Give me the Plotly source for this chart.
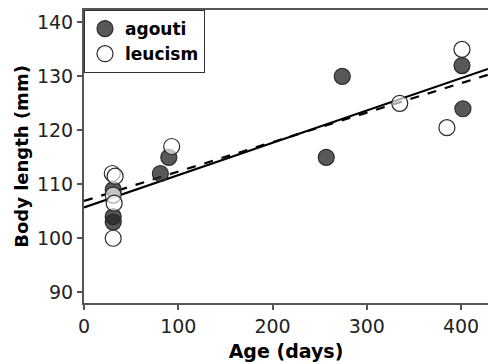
import plotly.graph_objects as go
import numpy as np

# Data
agouti_age = [31, 31, 31, 81, 90, 257, 274, 401, 402]
agouti_length = [109, 104, 103, 112, 115, 115, 130, 132, 124]

leucism_age = [30, 33, 31, 32, 31, 93, 335, 385, 401]
leucism_length = [112, 111.5, 108, 106.5, 100, 117, 125, 120.5, 135]

# Fitted regression lines (intercept, slope)
agouti_fit = (105.7, 0.0599)
leucism_fit = (106.9, 0.0546)

x_ticks = [0, 100, 200, 300, 400]
y_ticks = [90, 100, 110, 120, 130, 140]

X_RANGE = [0, 428.6]
Y_RANGE = [88, 142.3]

FONT = "DejaVu Sans"

fig = go.Figure()

fx = np.array(X_RANGE)
fig.add_trace(go.Scatter(
    x=fx, y=agouti_fit[0] + agouti_fit[1] * fx, mode="lines",
    line=dict(color="black", width=2.2), showlegend=False, hoverinfo="skip"))
fig.add_trace(go.Scatter(
    x=fx, y=leucism_fit[0] + leucism_fit[1] * fx, mode="lines",
    line=dict(color="black", width=2.2, dash="dash"), showlegend=False, hoverinfo="skip"))

fig.add_trace(go.Scatter(
    x=agouti_age, y=agouti_length, mode="markers", name="agouti",
    marker=dict(size=16, color="rgba(38,38,38,0.77)",
                line=dict(color="#2a2a2a", width=1.2))))
fig.add_trace(go.Scatter(
    x=leucism_age, y=leucism_length, mode="markers", name="leucism",
    marker=dict(size=16, color="rgba(255,255,255,0.65)",
                line=dict(color="#2a2a2a", width=1.2))))

axis_common = dict(
    showgrid=False, zeroline=False, showline=True, linecolor="#555", linewidth=2,
    ticks="outside", ticklen=5, tickwidth=1.5, tickcolor="#555",
    tickfont=dict(family=FONT, size=19, color="#222"), automargin=False,
)

fig.update_xaxes(
    range=X_RANGE, tickvals=x_ticks, mirror=True,
    title=dict(text="Age (days)", font=dict(family=FONT, size=19, color="black", weight="bold"), standoff=9),
    **axis_common)
fig.update_yaxes(
    range=Y_RANGE, tickvals=y_ticks,
    title=dict(text="Body length (mm)", font=dict(family=FONT, size=18, color="black", weight="bold"), standoff=4),
    **axis_common)

fig.update_layout(
    width=488, height=364,
    margin=dict(l=84, r=0, t=10, b=61),
    plot_bgcolor="white", paper_bgcolor="white",
    showlegend=True,
    legend=dict(x=0, y=1, xanchor="left", yanchor="top",
                bgcolor="white", bordercolor="#333", borderwidth=1,
                font=dict(family=FONT, size=17, color="black", weight="bold"),
                tracegroupgap=0, itemwidth=30),
)

fig.write_html("out.html", config={"displayModeBar": False},
               post_script="document.body.style.margin='0';document.body.style.overflow='hidden';")
